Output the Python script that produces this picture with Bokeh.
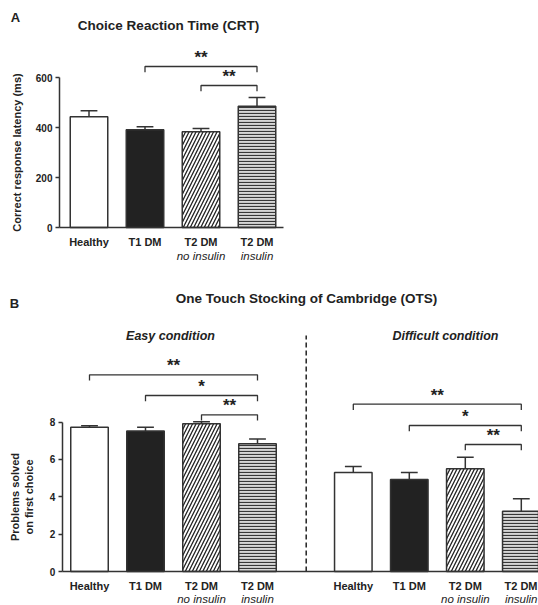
from bokeh.plotting import figure
from bokeh.models import Range1d, FixedTicker, ColumnDataSource
from bokeh.core.properties import value
from bokeh.layouts import column
from bokeh.embed import file_html
from bokeh.resources import INLINE

# ---------------- data ----------------
groups = ["Healthy", "T1 DM", "T2 DM", "T2 DM"]
subgroups = ["", "", "no insulin", "insulin"]

crt_mean = [443, 391, 383, 485]
crt_sem = [24, 12, 13, 35]
crt_sig = [(1, 3, "**"), (2, 3, "**")]

easy_mean = [7.73, 7.52, 7.91, 6.84]
easy_sem = [0.07, 0.21, 0.11, 0.26]
easy_sig = [(0, 3, "**"), (1, 3, "*"), (2, 3, "**")]

diff_mean = [5.30, 4.93, 5.50, 3.23]
diff_sem = [0.32, 0.37, 0.62, 0.66]
diff_sig = [(0, 3, "**"), (1, 3, "*"), (2, 3, "**")]

crt_ticks = [0, 200, 400, 600]
ots_ticks = [0, 2, 4, 6, 8]

# ---------------- styles ----------------
FONT = "Liberation Sans"
TXT = "#222222"
fills = ["white", "#222222", "white", "#d6d6d6"]
hatches = [" ", " ", "/", "-"]
hatch_scales = [6, 6, 7, 3]
hatch_weights = [1, 1, 1.3, 1.2]
hatch_colors = ["#333333", "#333333", "#222222", "#383838"]
BAR_W = 0.67
CAP = 0.15


def base_fig(w, h, xr, yr):
    p = figure(width=w, height=h, x_range=xr, y_range=yr,
               output_backend="svg", toolbar_location=None,
               min_border_left=0, min_border_right=0,
               min_border_top=0, min_border_bottom=0)
    p.outline_line_color = None
    p.grid.visible = False
    p.background_fill_color = "white"
    p.border_fill_color = "white"
    for ax in (p.xaxis[0], p.yaxis[0]):
        ax.axis_line_color = "#333333"
        ax.axis_line_width = 1.5
        ax.major_tick_line_color = "#333333"
        ax.major_tick_line_width = 1.5
        ax.major_tick_out = 4
        ax.major_tick_in = 0
        ax.minor_tick_line_color = None
        ax.major_label_text_font = FONT
        ax.major_label_text_font_style = "bold"
        ax.major_label_text_font_size = "10px"
        ax.major_label_text_color = TXT
        ax.major_label_standoff = 3
        ax.axis_label_text_font = FONT
        ax.axis_label_text_font_style = "bold"
        ax.axis_label_text_font_size = "11px"
        ax.axis_label_text_color = TXT
    p.xaxis[0].ticker = FixedTicker(ticks=[])
    p.xaxis[0].major_tick_line_color = None
    p.xaxis[0].fixed_location = 0
    return p


def draw_bars(p, xs, means, sems):
    src = ColumnDataSource(dict(x=xs, top=means, fill=fills, hatch=hatches,
                                hs=hatch_scales, hw=hatch_weights, hc=hatch_colors))
    p.vbar(x="x", top="top", width=BAR_W, source=src, fill_color="fill",
           line_color="#333333", line_width=1.5, hatch_pattern="hatch",
           hatch_scale="hs", hatch_weight="hw", hatch_color="hc")
    up = [m + s for m, s in zip(means, sems)]
    p.segment(x0=xs, y0=means, x1=xs, y1=up, line_color="#333333", line_width=1.5)
    p.segment(x0=[x - CAP for x in xs], y0=up, x1=[x + CAP for x in xs], y1=up,
              line_color="#333333", line_width=1.5)


def draw_brackets(p, xs, sig, levels, tick, star_off):
    for (i, j, s), lv in zip(sig, levels):
        p.line(x=[xs[i], xs[i], xs[j], xs[j]], y=[lv - tick, lv, lv, lv - tick],
               line_color="#333333", line_width=1.3)
        p.text(x=[(xs[i] + xs[j]) / 2], y=[lv + star_off], text=[s],
               text_font=value(FONT), text_font_style="bold",
               text_font_size="17px", text_color=TXT,
               text_align="center", text_baseline="alphabetic")


def label(p, x, y, text, size="11px", style="bold", align="center"):
    p.text(x=[x], y=[y], text=[text], text_font=value(FONT),
           text_font_style=style, text_font_size=size, text_color=TXT,
           text_align=align, text_baseline="middle")


# ---------------- panel A (page px 0..300 x 0..278) ----------------
UA = 56.0        # px per category
A0 = 88.5        # px of first bar centre
A_PX = 0.25      # px per ms
A_BOT = 227.0    # px of value 0
ax_ = lambda px: (px - A0) / UA
ay_ = lambda py: (A_BOT - py) / A_PX

pa = base_fig(300, 278, Range1d(ax_(0), ax_(300)), Range1d(ay_(278), ay_(0)))
pa.yaxis[0].ticker = FixedTicker(ticks=crt_ticks)
pa.yaxis[0].bounds = (0, 600)
pa.yaxis[0].fixed_location = ax_(59)
pa.yaxis[0].axis_label = "Correct response latency (ms)"
pa.yaxis[0].axis_label_standoff = 10
pa.xaxis[0].bounds = (ax_(59), ax_(283))

xa = [float(i) for i in range(len(groups))]
draw_bars(pa, xa, crt_mean, crt_sem)
draw_brackets(pa, xa, crt_sig, [ay_(66), ay_(85)], 5.7 / A_PX, 9 / A_PX)

label(pa, ax_(15), ay_(17), "A", size="13px")
label(pa, ax_(168), ay_(25), "Choice Reaction Time (CRT)", size="13.5px")
for x, g, s in zip(xa, groups, subgroups):
    label(pa, x, ay_(241), g)
    if s:
        label(pa, x, ay_(255), s, style="italic", size="11.5px")

# ---------------- panel B (page px 0..538 x 278..605) ----------------
UB = 56.0
B0 = 89.0
B_PX = 18.67
B_TOP = 278.0
B_BOT = 571.0
bx_ = lambda px: (px - B0) / UB
by_ = lambda py: (B_BOT - py) / B_PX

pb = base_fig(538, 327, Range1d(bx_(0), bx_(538)), Range1d(by_(605), by_(B_TOP)))
pb.yaxis[0].ticker = FixedTicker(ticks=ots_ticks)
pb.yaxis[0].bounds = (0, 8)
pb.yaxis[0].fixed_location = bx_(61.7)
pb.yaxis[0].axis_label = "Problems solved\non first choice"
pb.yaxis[0].axis_label_standoff = 12
pb.xaxis[0].bounds = (bx_(61.7), bx_(538))

xe = [float(i) for i in range(len(groups))]
xd = [x + bx_(352.8) for x in xe]
draw_bars(pb, xe, easy_mean, easy_sem)
draw_bars(pb, xd, diff_mean, diff_sem)
tb = 5.7 / B_PX
draw_brackets(pb, xe, easy_sig, [by_(374.3), by_(395), by_(414.3)], tb, 9 / B_PX)
draw_brackets(pb, xd, diff_sig, [by_(403.7), by_(425), by_(444)], tb, 9 / B_PX)

pb.line(x=[bx_(305.7), bx_(305.7)], y=[0, by_(335)], line_color="#222222",
        line_width=1.5, line_dash="5 3")

label(pb, bx_(14), by_(303), "B", size="13px")
label(pb, bx_(306), by_(298), "One Touch Stocking of Cambridge (OTS)", size="13.5px")
label(pb, bx_(170), by_(335), "Easy condition", size="12.5px", style="bold italic")
label(pb, bx_(445), by_(335), "Difficult condition", size="12.5px", style="bold italic")
for xs_ in (xe, xd):
    for k, (x, g, s) in enumerate(zip(xs_, groups, subgroups)):
        xx, al = x, "center"
        if bx_(x * UB + B0 + 20) > bx_(537):
            xx, al = bx_(537), "right"
        label(pb, xx, by_(585), g, align=al)
        if s:
            label(pb, xx, by_(598), s, style="italic", size="11.5px", align=al)

layout = column(pa, pb)
open("out.html", "w").write(file_html(layout, INLINE))
